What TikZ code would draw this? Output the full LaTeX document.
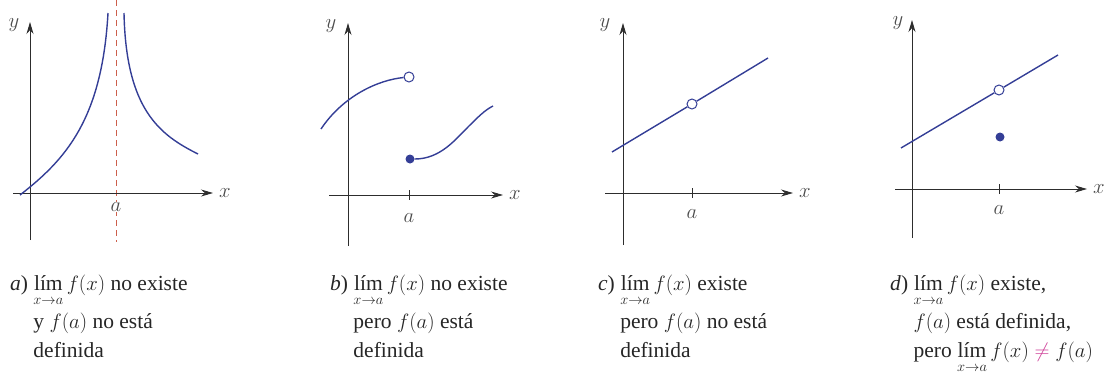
\documentclass[tikz,border=0pt]{standalone}
\usepackage{amsmath}
\usepackage{fontspec}
\setmainfont{Liberation Serif}
\usetikzlibrary{arrows.meta,positioning}

\definecolor{curve}{RGB}{52,62,150}
\definecolor{axis}{RGB}{45,45,45}
\definecolor{asym}{RGB}{205,95,75}
\definecolor{neq}{RGB}{205,60,150}

\newcommand{\limxa}{\mathop{\text{lím}}\limits_{\vphantom{f}x\to a}}

\tikzset{
  ax/.style={draw=axis, line width=0.9pt, -{Stealth[length=12pt,width=7pt]}},
  fn/.style={draw=curve, line width=1.4pt},
  hole/.style={circle, draw=curve, fill=white, line width=1pt, inner sep=0pt, minimum size=10pt},
  filldot/.style={circle, fill=curve, inner sep=0pt, minimum size=9pt},
  lbl/.style={font=\fontsize{22}{22}\selectfont, text=axis!85, inner sep=0pt},
  tickmark/.style={draw=axis, line width=0.9pt},
  capt/.style={font=\fontsize{21.5}{29}\selectfont, align=left, anchor=north west, inner sep=0pt, text=black!85},
}

\begin{document}
\begin{tikzpicture}[x=1pt, y=-1pt]
  \useasboundingbox (0,0) rectangle (1104,375);

  % a) vertical asymptote
  \coordinate (a-xl) at (13,193);  \coordinate (a-xr) at (213,193);
  \coordinate (a-yb) at (30,240);  \coordinate (a-yt) at (30,22);
  \coordinate (a-at) at (116,0);   \coordinate (a-ab) at (116,242);
  \draw[asym, line width=0.9pt, dashed, dash pattern=on 6pt off 4pt] (a-at) -- (a-ab);
  \draw[ax] (a-xl) -- (a-xr);
  \draw[ax] (a-yb) -- (a-yt);
  \node[lbl, right=6pt of a-xr] (a-x) {$x$};
  \node[lbl] (a-y) at (14,25) {$y$};
  \node[lbl, fill=white, inner sep=1pt] (a-a) at (116,207) {$a$};
  \coordinate (a-l0) at (20,195); \coordinate (a-l1) at (108,13);
  \coordinate (a-r0) at (124,13); \coordinate (a-r1) at (198,154);
  \draw[fn] (a-l0) .. controls (65,160) and (102,120) .. (a-l1);
  \draw[fn] (a-r0) .. controls (126,110) and (160,135) .. (a-r1);

  % b) jump
  \coordinate (b-xl) at (329,195); \coordinate (b-xr) at (503,195);
  \coordinate (b-yb) at (348,246); \coordinate (b-yt) at (348,23);
  \draw[ax] (b-xl) -- (b-xr);
  \draw[ax] (b-yb) -- (b-yt);
  \node[lbl, right=6pt of b-xr] (b-x) {$x$};
  \node[lbl] (b-y) at (331,26) {$y$};
  \draw[tickmark] (409,190) -- (409,200);
  \node[lbl] (b-a) at (409,218) {$a$};
  \node[hole] (b-hole) at (409,77) {};
  \node[filldot] (b-dot) at (410,159) {};
  \coordinate (b-l0) at (321,129); \coordinate (b-r1) at (493,106);
  \draw[fn] (b-l0) .. controls (343,96) and (378,80) .. (b-hole);
  \draw[fn] (b-dot) .. controls (440,159) and (455,140) .. (468,127)
                    .. controls (478,117) and (485,110) .. (b-r1);

  % c) hole
  \coordinate (c-xl) at (605,193); \coordinate (c-xr) at (793,193);
  \coordinate (c-yb) at (623,245); \coordinate (c-yt) at (623,23);
  \draw[ax] (c-xl) -- (c-xr);
  \draw[ax] (c-yb) -- (c-yt);
  \node[lbl, right=6pt of c-xr] (c-x) {$x$};
  \node[lbl] (c-y) at (605,25) {$y$};
  \draw[tickmark] (692,188) -- (692,198);
  \node[lbl] (c-a) at (692,214) {$a$};
  \coordinate (c-l) at (612,152); \coordinate (c-r) at (768,58);
  \node[hole] (c-hole) at (692,104) {};
  \draw[fn] (c-l) -- (c-hole) -- (c-r);

  % d) hole + displaced value
  \coordinate (d-xl) at (895,189); \coordinate (d-xr) at (1087,189);
  \coordinate (d-yb) at (912,238); \coordinate (d-yt) at (912,20);
  \draw[ax] (d-xl) -- (d-xr);
  \draw[ax] (d-yb) -- (d-yt);
  \node[lbl, right=6pt of d-xr] (d-x) {$x$};
  \node[lbl] (d-y) at (898,23) {$y$};
  \draw[tickmark] (999,184) -- (999,194);
  \node[lbl] (d-a) at (999,210) {$a$};
  \coordinate (d-l) at (901,148); \coordinate (d-r) at (1058,55);
  \node[hole] (d-hole) at (999,90) {};
  \node[filldot] (d-dot) at (1000,137) {};
  \draw[fn] (d-l) -- (d-hole) -- (d-r);

  % captions
  \node[capt] (cap-a) at (10,275) {\textit{a}) $\limxa f(x)$ no existe\\[3pt]
    \phantom{\textit{a}) }y $f(a)$ no está\\
    \phantom{\textit{a}) }definida};
  \node[capt] (cap-b) at (330,275) {\textit{b}) $\limxa f(x)$ no existe\\[3pt]
    \phantom{\textit{b}) }pero $f(a)$ está\\
    \phantom{\textit{b}) }definida};
  \node[capt] (cap-c) at (598,275) {\textit{c}) $\limxa f(x)$ existe\\[3pt]
    \phantom{\textit{c}) }pero $f(a)$ no está\\
    \phantom{\textit{c}) }definida};
  \node[capt] (cap-d) at (890,275) {\textit{d}) $\limxa f(x)$ existe,\\[3pt]
    \phantom{\textit{d}) }$f(a)$ está definida,\\
    \phantom{\textit{d}) }pero $\limxa f(x) \mathrel{\textcolor{neq}{\neq}} f(a)$};
\end{tikzpicture}
\end{document}
